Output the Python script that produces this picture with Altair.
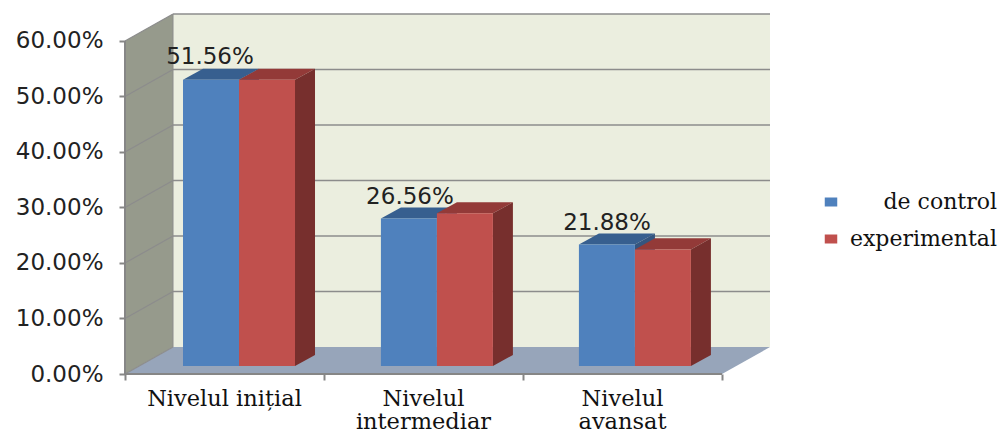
import altair as alt
import pandas as pd

categories = ["Nivelul inițial", "Nivelul\nintermediar", "Nivelul\navansat"]
series_names = ["de control", "experimental"]
control = [0.5156, 0.2656, 0.2188]
experimental = [0.5156, 0.2750, 0.2100]
value_labels = ["51.56%", "26.56%", "21.88%"]
label_x = [0.427, 1.432, 2.422]
label_y = [0.571, 0.319, 0.272]
bar_left = [0.2915, 1.286, 2.281]
ticks = [0, 0.1, 0.2, 0.3, 0.4, 0.5, 0.6]

W, H = 645, 360
DX, DY = 48 / 199, 0.0486          # wall depth in data units
BY = 0.0144                        # bar base offset from the front plane
SX, SY = 20 / 199, 0.02            # bar depth
BW = 56 / 199                      # bar width
XMAX, YMAX = 3 + DX, 0.6 + DY

x_scale = alt.Scale(domain=[0, XMAX], nice=False, zero=False)
y_scale = alt.Scale(domain=[0, YMAX], nice=False, zero=False)
GRID = "#8c8c8c"
AXIS = "#868686"

x_axis_def = alt.Axis(
    values=[0, 1, 2, 3], labels=False, domain=False, grid=False, title=None,
    tickColor=AXIS, tickWidth=2, tickSize=6,
)
y_axis_def = alt.Axis(
    values=ticks, format=".2%", domain=False, grid=False, title=None,
    tickColor=AXIS, tickWidth=2, tickSize=6, labelPadding=16,
    labelFont="DejaVu Sans", labelFontSize=23, labelColor="#222222",
    labelOverlap=False, labelFlush=False,
)


def X():
    return alt.X("x:Q", scale=x_scale, axis=x_axis_def)


def Y():
    return alt.Y("y:Q", scale=y_scale, axis=y_axis_def)


# walls
back = alt.Chart(pd.DataFrame({"x": [DX], "x2": [XMAX], "y": [DY], "y2": [YMAX]})).mark_rect(
    color="#EBEEDF"
).encode(X(), alt.X2("x2:Q"), Y(), alt.Y2("y2:Q"))

side = alt.Chart(pd.DataFrame({"x": [0, DX], "y": [0, DY], "y2": [0.6, YMAX]})).mark_area(
    orient="vertical", color="#969A8C"
).encode(X(), Y(), alt.Y2("y2:Q"))

floor = alt.Chart(pd.DataFrame({"y": [0, DY], "x": [0, DX], "x2": [3, XMAX]})).mark_area(
    orient="horizontal", color="#97A5BA"
).encode(Y(), X(), alt.X2("x2:Q"))

# gridlines on the back wall and running down the side wall
grid_back = alt.Chart(
    pd.DataFrame({"y": [t + DY for t in ticks[1:]], "x": DX, "x2": XMAX})
).mark_rule(color=GRID, strokeWidth=1.5).encode(X(), alt.X2("x2:Q"), Y())

grid_rows = []
for t in ticks:
    grid_rows += [{"t": t, "x": 0, "y": t}, {"t": t, "x": DX, "y": t + DY}]
grid_side = alt.Chart(pd.DataFrame(grid_rows)).mark_line(color=GRID, strokeWidth=1.2).encode(
    X(), Y(), detail="t:N"
)
side_edge = alt.Chart(pd.DataFrame({"x": [DX], "y": [DY], "y2": [YMAX]})).mark_rule(
    color=GRID, strokeWidth=1
).encode(X(), Y(), alt.Y2("y2:Q"))

# axis lines
y_line = alt.Chart(pd.DataFrame({"x": [0], "y": [0], "y2": [0.6]})).mark_rule(
    color=AXIS, strokeWidth=2
).encode(X(), Y(), alt.Y2("y2:Q"))
x_line = alt.Chart(pd.DataFrame({"x": [0], "x2": [3], "y": [0]})).mark_rule(
    color=AXIS, strokeWidth=2
).encode(X(), alt.X2("x2:Q"), Y())


def faces(values, series, offset, top_col, side_col):
    layers = []
    front = pd.DataFrame(
        {
            "x": [b + offset for b in bar_left],
            "x2": [b + offset + BW for b in bar_left],
            "y": [BY] * 3,
            "y2": [v + BY for v in values],
            "series": [series] * 3,
        }
    )
    top_rows, side_rows = [], []
    for i, v in enumerate(values):
        a = bar_left[i] + offset
        top_rows += [
            {"id": i, "y": v + BY, "x": a, "x2": a + BW},
            {"id": i, "y": v + BY + SY, "x": a + SX, "x2": a + BW + SX},
        ]
        side_rows += [
            {"id": i, "x": a + BW, "y": BY, "y2": v + BY},
            {"id": i, "x": a + BW + SX, "y": BY + SY, "y2": v + BY + SY},
        ]
    layers.append(
        alt.Chart(pd.DataFrame(top_rows)).mark_area(orient="horizontal", color=top_col).encode(
            Y(), X(), alt.X2("x2:Q"), detail="id:N"
        )
    )
    layers.append(
        alt.Chart(pd.DataFrame(side_rows)).mark_area(orient="vertical", color=side_col).encode(
            X(), Y(), alt.Y2("y2:Q"), detail="id:N"
        )
    )
    layers.append(
        alt.Chart(front).mark_rect().encode(
            X(), alt.X2("x2:Q"), Y(), alt.Y2("y2:Q"),
            color=alt.Color(
                "series:N",
                scale=alt.Scale(domain=series_names, range=["#4F81BD", "#C0504D"]),
                legend=alt.Legend(
                    title=None, orient="none", legendX=695, legendY=177,
                    symbolType="M-1,-0.72H1V0.72H-1Z", symbolSize=156, symbolStrokeWidth=0,
                    labelFont="DejaVu Serif", labelFontSize=22, labelColor="#111111",
                    labelAlign="right", labelOffset=155,
                    rowPadding=15, labelLimit=300,
                ),
            ),
        )
    )
    return layers


blue = faces(control, "de control", 0, "#375F8F", "#34557F")
red = faces(experimental, "experimental", BW, "#933A38", "#772F2D")

data_labels = alt.Chart(
    pd.DataFrame({"x": label_x, "y": label_y, "t": value_labels})
).mark_text(font="DejaVu Sans", fontSize=23, color="#222222").encode(X(), Y(), text="t:N")

cat_labels = alt.Chart(
    pd.DataFrame({"x": [0.5, 1.5, 2.5], "t": categories})
).mark_text(
    font="DejaVu Serif", fontSize=22.5, color="#111111", lineBreak="\n",
    baseline="top", lineHeight=23,
).encode(X(), y=alt.value(H + 14), text="t:N")

chart = alt.layer(
    back, side, floor, grid_back, grid_side, side_edge, y_line, x_line,
    *blue, *red, data_labels, cat_labels,
).properties(
    width=W,
    height=H,
    background="white",
    padding={"left": 117, "top": 6, "right": 230, "bottom": 58},
    autosize=alt.AutoSizeParams(type="none"),
).configure_view(stroke=None)

chart.save("out.html", embed_options={"renderer": "svg", "actions": False})
